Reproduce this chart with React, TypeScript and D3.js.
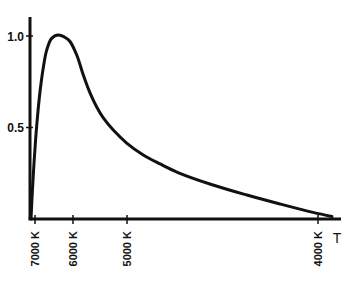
import React from "react";
import * as d3 from "d3";

const tickTemps = [7000, 6000, 5000, 4000];
const tickLabels = ["7000 K", "6000 K", "5000 K", "4000 K"];
const yTicks = [0.5, 1.0];
const yTickLabels = ["0.5", "1.0"];
const curveTemps = [7105, 7068, 7026, 6979, 6926, 6863, 6779, 6692, 6561, 6387, 6184, 6079, 5931, 5809, 5685, 5561, 5439, 5254, 5006, 4915, 4827, 4733, 4550, 4372, 4199, 4026, 3927];
const curveValues = [0.0, 0.158, 0.306, 0.448, 0.579, 0.705, 0.831, 0.923, 0.987, 1.005, 0.989, 0.97, 0.896, 0.787, 0.689, 0.612, 0.552, 0.486, 0.415, 0.35, 0.301, 0.254, 0.186, 0.131, 0.082, 0.036, 0.014];

export default function App() {
  const x = d3.scaleLinear().domain(tickTemps).range([35, 73, 127, 318]);
  const y = d3.scaleLinear().domain([0, 1]).range([219, 36]);
  const pts: [number, number][] = curveTemps.map((t, i) => [x(t), y(curveValues[i])]);
  const line = d3.line<[number, number]>().x(d => d[0]).y(d => d[1]).curve(d3.curveCatmullRom.alpha(0.5));
  const ink = "#111";
  const font = "'Liberation Sans', Arial, sans-serif";
  return (
    <svg width={350} height={285} style={{ position: "absolute", left: 0, top: 0, background: "#fff" }}>
      <path d={line(pts) || ""} fill="none" stroke={ink} strokeWidth={3} strokeLinejoin="round" strokeLinecap="round" />
      <line x1={30} x2={30} y1={17} y2={219} stroke={ink} strokeWidth={3} />
      <line x1={28.5} x2={341} y1={219} y2={219} stroke={ink} strokeWidth={3} />
      {yTicks.map((v, i) => (
        <g key={v}>
          <line x1={26} x2={33} y1={y(v)} y2={y(v)} stroke={ink} strokeWidth={1.5} />
          <text x={24} y={y(v) + 4.5} textAnchor="end" fontFamily={font} fontSize={12} fontWeight="bold" fill={ink}>{yTickLabels[i]}</text>
        </g>
      ))}
      {tickTemps.map((t, i) => (
        <g key={t}>
          <line x1={x(t)} x2={x(t)} y1={215} y2={224} stroke={ink} strokeWidth={1.5} />
          <text transform={`translate(${x(t) + 4},${231}) rotate(-90)`} textAnchor="end" fontFamily={font} fontSize={11} fontWeight="bold" fill={ink}>{tickLabels[i]}</text>
        </g>
      ))}
      <text x={337} y={243} textAnchor="middle" fontFamily={font} fontSize={14} fill={ink}>T</text>
    </svg>
  );
}
